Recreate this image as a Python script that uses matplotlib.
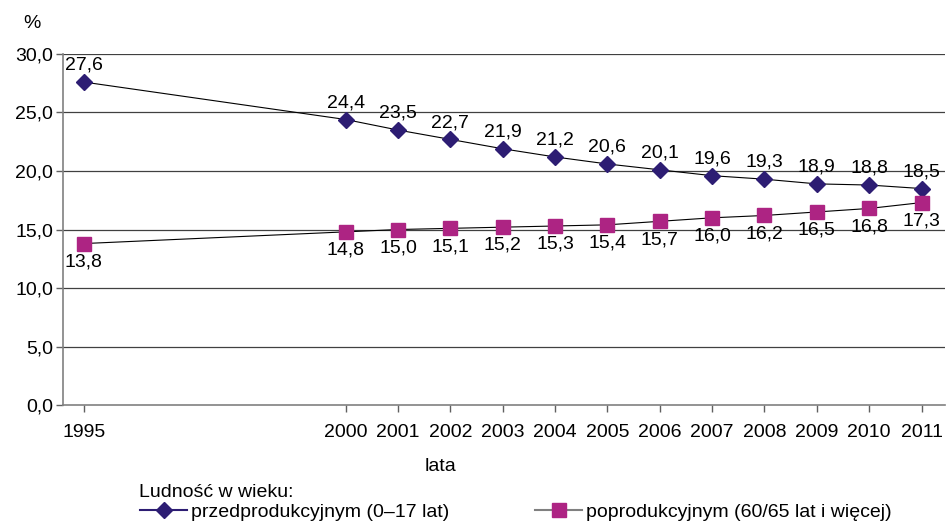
import matplotlib
matplotlib.use("Agg")
from matplotlib import pyplot as plt
from matplotlib.lines import Line2D

years = [1995, 2000, 2001, 2002, 2003, 2004, 2005, 2006, 2007, 2008, 2009, 2010, 2011]
przed = [27.6, 24.4, 23.5, 22.7, 21.9, 21.2, 20.6, 20.1, 19.6, 19.3, 18.9, 18.8, 18.5]
popro = [13.8, 14.8, 15.0, 15.1, 15.2, 15.3, 15.4, 15.7, 16.0, 16.2, 16.5, 16.8, 17.3]
yticks = [0, 5, 10, 15, 20, 25, 30]

navy = "#2d1d73"
magenta = "#ad2483"
fs = 14

plt.rcParams['font.family'] = ['Liberation Sans', 'DejaVu Sans']
plt.rcParams['font.size'] = fs

fig = plt.figure(figsize=(9.47, 5.24), dpi=100)
ax = fig.add_axes([0.0665, 0.227, 0.9315, 0.67])

for v in yticks[1:]:
    ax.axhline(v, color="#404040", lw=0.9, zorder=1)

ax.plot(years, przed, color="black", lw=0.8, marker="D", ms=8, mfc=navy, mec=navy, zorder=3)
ax.plot(years, popro, color="black", lw=0.8, marker="s", ms=10, mfc=magenta, mec=magenta, zorder=3)

def fmt(v):
    return ("%.1f" % v).replace(".", ",")

for x, v in zip(years, przed):
    ax.annotate(fmt(v), (x, v), xytext=(0, 6), textcoords="offset points", ha="center", va="bottom", fontsize=fs)
for x, v in zip(years, popro):
    ax.annotate(fmt(v), (x, v), xytext=(0, -7), textcoords="offset points", ha="center", va="top", fontsize=fs)

ax.set_xlim(1994.6, 2011.45)
ax.set_ylim(0, 30)
ax.set_xticks(years)
ax.set_yticks(yticks)
ax.set_yticklabels([fmt(v) for v in yticks])
ax.tick_params(axis="both", colors="#606060", labelcolor="black", length=5, width=1, labelsize=fs)
ax.tick_params(axis="x", pad=9)
ax.tick_params(axis="y", pad=2)
for s in ["top", "right"]:
    ax.spines[s].set_visible(False)
for s in ["left", "bottom"]:
    ax.spines[s].set_color("#808080")
    ax.spines[s].set_linewidth(1.2)

fig.text(0.025, 0.955, "%", fontsize=fs, ha="left", va="center")
fig.text(0.465, 0.11, "lata", fontsize=fs, ha="center", va="center")
fig.text(0.147, 0.06, "Ludność w wieku:", fontsize=fs, ha="left", va="center")

h1 = Line2D([], [], color=navy, lw=1.5, marker="D", ms=8, mfc=navy, mec=navy)
h2 = Line2D([], [], color="#808080", lw=1.5, marker="s", ms=10, mfc=magenta, mec=magenta)
fig.legend([h1], ["przedprodukcyjnym (0–17 lat)"], loc="center left", bbox_to_anchor=(0.14, 0.023),
           frameon=False, handlelength=2.4, handletextpad=0.2, borderaxespad=0, fontsize=fs)
fig.legend([h2], ["poprodukcyjnym (60/65 lat i więcej)"], loc="center left", bbox_to_anchor=(0.557, 0.023),
           frameon=False, handlelength=2.4, handletextpad=0.2, borderaxespad=0, fontsize=fs)

fig.savefig("out.png", dpi=100)
